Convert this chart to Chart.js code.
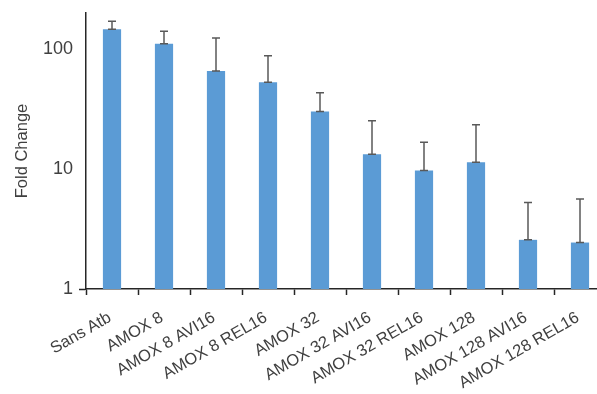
<!DOCTYPE html>
<html>
<head>
<meta charset="utf-8">
<script src="https://cdn.jsdelivr.net/npm/chart.js@4.4.0/dist/chart.umd.min.js"></script>
<style>
  html, body { margin: 0; padding: 0; background: #fff; overflow: hidden; }
  #wrap { position: relative; width: 606px; height: 394px; }
</style>
</head>
<body>
<div id="wrap"><canvas id="c"></canvas></div>
<script>
const categories = ["Sans Atb", "AMOX 8", "AMOX 8 AVI16", "AMOX 8 REL16", "AMOX 32",
  "AMOX 32 AVI16", "AMOX 32 REL16", "AMOX 128", "AMOX 128 AVI16", "AMOX 128 REL16"];
const foldChange = [146.6, 110.7, 65.7, 53, 30.2, 13.3, 9.72, 11.4, 2.57, 2.44];
const errorPlus = [24, 30, 58, 35, 13, 12, 7, 12, 2.7, 3.2];
const yTickLabels = [1, 10, 100];
const yMin = 1, yMax = 200;

const textColor = '#404040';
const axisColor = '#262626';
const fontFamily = '"Liberation Sans", Arial, sans-serif';

const errorBarPlugin = {
  id: 'errorBars',
  afterDatasetsDraw(chart) {
    const ctx = chart.ctx;
    const meta = chart.getDatasetMeta(0);
    const ys = chart.scales.y;
    ctx.save();
    ctx.strokeStyle = '#595959';
    ctx.lineWidth = 1.5;
    meta.data.forEach((bar, i) => {
      const top = ys.getPixelForValue(foldChange[i] + errorPlus[i]);
      const base = bar.y;
      ctx.beginPath();
      ctx.moveTo(bar.x, base);
      ctx.lineTo(bar.x, top);
      ctx.moveTo(bar.x - 4, top);
      ctx.lineTo(bar.x + 4, top);
      ctx.moveTo(bar.x - 4, base);
      ctx.lineTo(bar.x + 4, base);
      ctx.stroke();
    });
    ctx.restore();
  }
};

new Chart(document.getElementById('c'), {
  type: 'bar',
  data: {
    labels: categories,
    datasets: [{
      data: foldChange,
      backgroundColor: '#5B9BD5',
      borderWidth: 0,
      barPercentage: 0.35,
      categoryPercentage: 1.0
    }]
  },
  options: {
    responsive: true,
    maintainAspectRatio: false,
    animation: false,
    layout: { padding: { top: 13, right: 0, bottom: 0, left: 0 } },
    plugins: { legend: { display: false }, tooltip: { enabled: false } },
    scales: {
      x: {
        offset: true,
        grid: {
          offset: true,
          drawOnChartArea: false,
          drawTicks: true,
          tickLength: 6,
          tickColor: axisColor,
          tickWidth: 1.5
        },
        border: { display: true, color: axisColor, width: 1.5 },
        ticks: {
          color: textColor,
          font: { family: fontFamily, size: 16.5 },
          minRotation: 30,
          maxRotation: 30,
          autoSkip: false,
          padding: 13,
          labelOffset: -2
        },
        afterFit(scale) {
          scale.height = 105;
          scale.paddingLeft = 0;
          scale.paddingRight = 0;
        }
      },
      y: {
        type: 'logarithmic',
        min: yMin,
        max: yMax,
        grid: {
          drawOnChartArea: false,
          drawTicks: true,
          tickLength: 7,
          tickWidth: 1.5,
          tickColor: (c) => (c.tick && c.tick.value === 1) ? axisColor : 'rgba(0,0,0,0)'
        },
        border: { display: true, color: axisColor, width: 1.5 },
        ticks: {
          color: textColor,
          font: { family: fontFamily, size: 18 },
          autoSkip: false,
          padding: 6,
          callback: (v) => yTickLabels.includes(v) ? String(v) : ''
        },
        title: {
          display: true,
          text: 'Fold Change',
          color: textColor,
          font: { family: fontFamily, size: 16.5 },
          padding: { top: 13, bottom: 0 }
        },
        afterFit(scale) {
          scale.width = 86;
          scale.paddingTop = 0;
          scale.paddingBottom = 0;
        }
      }
    }
  },
  plugins: [errorBarPlugin]
});
</script>
</body>
</html>
